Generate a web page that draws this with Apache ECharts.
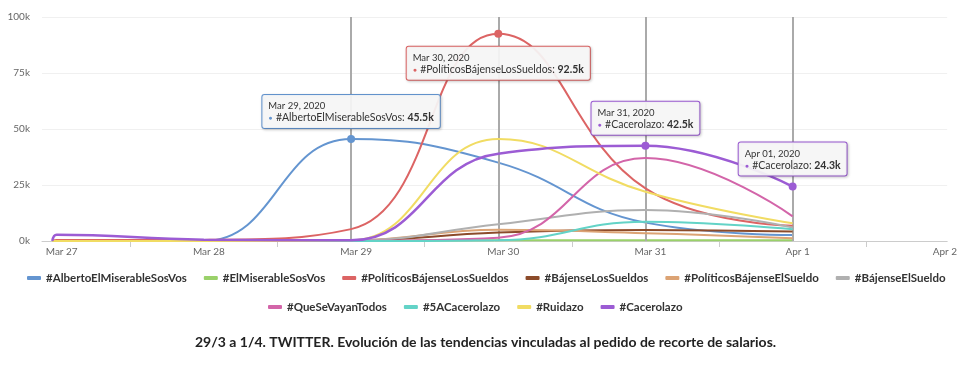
<!DOCTYPE html>
<html>
<head>
<meta charset="utf-8">
<script src="https://cdn.jsdelivr.net/npm/echarts@6/dist/echarts.min.js"></script>
<style>
  html, body { margin: 0; padding: 0; background: #fff; }
  #chart { width: 960px; height: 377px; }
</style>
</head>
<body>
<div id="chart"></div>
<script>
// x positions in days from Mar 27 (first entry = start of the series)
const dayPos = [-0.03, 0, 1, 2, 3, 4, 5]
const xLabels = ['Mar 27', 'Mar 28', 'Mar 29', 'Mar 30', 'Mar 31', 'Apr 1', 'Apr 2']
const yTicks = [0, 25000, 50000, 75000, 100000]

const names = [
  '#AlbertoElMiserableSosVos', '#ElMiserableSosVos', '#PolíticosBájenseLosSueldos',
  '#BájenseLosSueldos', '#PolíticosBájenseElSueldo', '#BájenseElSueldo',
  '#QueSeVayanTodos', '#5ACacerolazo', '#Ruidazo', '#Cacerolazo'
]
const colors = ['#6495d0', '#9ad16a', '#dc6464', '#8c4b2a', '#dca374', '#b0b0b0',
  '#d365a9', '#63d3c7', '#f1dc63', '#9c5cd4']

const alberto   = [0, 0, 0, 45500, 35000, 8200, 2700]
const miserable = [0, 0, 0, 200, 300, 300, 300]
const politicos = [0, 400, 500, 5300, 92500, 23500, 6800]
const bajLos    = [0, 0, 0, 200, 3800, 4900, 4200]
const polEl     = [0, 0, 0, 200, 5000, 3500, 1200]
const bajEl     = [0, 0, 0, 200, 7500, 13800, 6000]
const queSe     = [0, 0, 0, 100, 1500, 37000, 11000]
const cinco     = [0, 0, 0, 0, 300, 8600, 5200]
const ruidazo   = [0, 0, 0, 300, 45500, 22000, 7900]
const cacero    = [0, 2800, 600, 300, 39000, 42500, 24300]
const values = [alberto, miserable, politicos, bajLos, polEl, bajEl, queSe, cinco, ruidazo, cacero]

// pinned tooltips: series index, point index, date text, box side
const tips = [
  { s: 0, i: 3, date: 'Mar 29, 2020', pos: 'top' },
  { s: 2, i: 4, date: 'Mar 30, 2020', pos: 'bottom' },
  { s: 9, i: 5, date: 'Mar 31, 2020', pos: 'top' },
  { s: 9, i: 6, date: 'Apr 01, 2020', pos: 'top' }
]

const font = 'Lato, "Noto Sans", sans-serif'
const fmtK = (v) => (v / 1000).toFixed(1) + 'k'

const series = names.map((name, s) => {
  const marks = tips.filter((t) => t.s === s).map((t) => ({
    coord: [dayPos[t.i], values[s][t.i]],
    label: {
      position: t.pos,
      distance: t.pos === 'top' ? 7 : 9,
      formatter: '{d|' + t.date + '}\n{dot|●} {n|' + name + ': }{v|' + fmtK(values[s][t.i]) + '}'
    }
  }))
  return {
    name,
    type: 'line',
    smooth: 0.45,
    symbol: 'none',
    color: colors[s],
    lineStyle: { width: s === 9 ? 2.5 : 2 },
    data: dayPos.map((d, i) => [d, values[s][i]]),
    z: 3 + s,
    markPoint: marks.length ? {
      symbol: 'circle',
      symbolSize: 8,
      itemStyle: { color: colors[s] },
      z: 20,
      label: {
        show: true,
        backgroundColor: 'rgba(248,248,248,0.92)',
        borderColor: colors[s],
        borderWidth: 1,
        borderRadius: 2,
        padding: [5, 6, 4, 6],
        shadowColor: 'rgba(0,0,0,0.18)',
        shadowBlur: 3,
        shadowOffsetX: 1,
        shadowOffsetY: 1,
        rich: {
          d: { fontFamily: font, fontSize: 9.5, color: '#333', lineHeight: 12, align: 'left' },
          dot: { fontSize: 7, color: colors[s], lineHeight: 12, align: 'left' },
          n: { fontFamily: font, fontSize: 10.5, color: '#333', lineHeight: 12, align: 'left' },
          v: { fontFamily: font, fontSize: 10.5, color: '#333', fontWeight: 'bold', lineHeight: 12, align: 'left' }
        }
      },
      data: marks
    } : undefined
  }
})

// gray vertical guide lines at the pinned points
series[0].markLine = {
  silent: true,
  symbol: 'none',
  label: { show: false },
  lineStyle: { color: '#aaa', width: 2, type: 'solid' },
  data: tips.map((t) => ({ xAxis: dayPos[t.i] }))
}

const legendBase = {
  icon: 'roundRect',
  itemWidth: 14,
  itemHeight: 4,
  itemGap: 17,
  padding: 0,
  textStyle: { fontFamily: font, fontSize: 11.5, fontWeight: 'bold', color: '#333' }
}

const chart = echarts.init(document.getElementById('chart'))
chart.setOption({
  animation: false,
  backgroundColor: '#fff',
  title: {
    text: '29/3 a 1/4. TWITTER. Evolución de las tendencias vinculadas al pedido de recorte de salarios.',
    left: 195,
    top: 335,
    padding: 0,
    textStyle: { fontFamily: font, fontSize: 14, fontWeight: 'bold', color: '#222' }
  },
  legend: [
    Object.assign({}, legendBase, { data: names.slice(0, 6), left: 27, top: 272 }),
    Object.assign({}, legendBase, { data: names.slice(6), left: 268, top: 301 })
  ],
  grid: { left: 42, right: 8, top: 17, bottom: 136 },
  xAxis: {
    type: 'value',
    min: -0.1,
    max: 6.05,
    splitLine: { show: false },
    axisLine: { lineStyle: { color: '#ccc' } },
    axisTick: {
      show: true,
      length: 6,
      lineStyle: { color: '#ccc' },
      customValues: [0.5, 1.5, 2.5, 3.5, 4.5, 5.5]
    },
    axisLabel: {
      customValues: xLabels.map((l, i) => i),
      formatter: (v) => xLabels[Math.round(v)],
      fontFamily: font,
      fontSize: 10,
      color: '#666',
      margin: 6,
      padding: [0, 0, 0, 10]
    }
  },
  yAxis: {
    type: 'value',
    min: yTicks[0],
    max: yTicks[yTicks.length - 1],
    interval: 25000,
    axisLine: { show: false },
    axisTick: { show: false },
    splitLine: { lineStyle: { color: '#f0f0f0' } },
    axisLabel: {
      formatter: (v) => v / 1000 + 'k',
      fontFamily: font,
      fontSize: 10,
      color: '#666',
      margin: 12
    }
  },
  series
})
</script>
</body>
</html>
